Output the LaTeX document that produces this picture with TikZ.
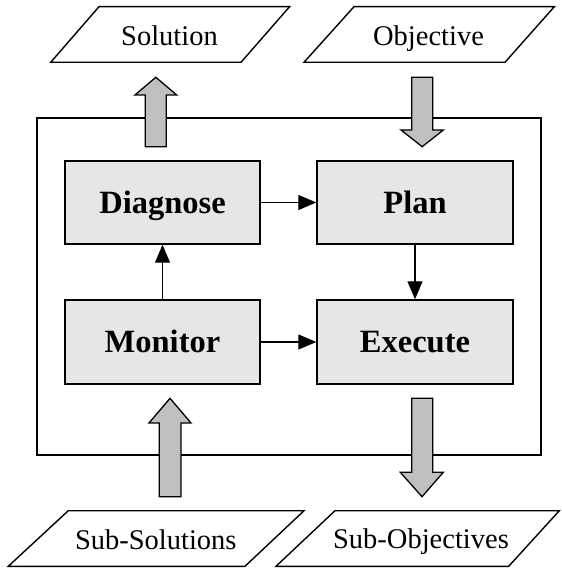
\documentclass[tikz,border=0pt]{standalone}
\usepackage{fontspec}
\setmainfont{Liberation Serif}
\usetikzlibrary{arrows.meta}
\definecolor{boxgray}{HTML}{E6E6E6}
\definecolor{arrowgray}{HTML}{C0C0C0}
\begin{document}
\begin{tikzpicture}[x=1pt,y=-1pt,
  procbox/.style={draw, line width=1.4pt, fill=boxgray, minimum width=195pt, minimum height=83pt, inner sep=0pt,
    font=\fontsize{32.5}{32.5}\selectfont\bfseries, text height=21.5pt, text depth=0pt},
  iolabel/.style={inner sep=0pt, font=\fontsize{28.5}{28.5}\selectfont, text height=18.9pt, text depth=0pt},
  ioshape/.style={draw, line width=1.4pt, fill=white, line join=miter},
  blockarrow/.style={draw, line width=1.3pt, fill=arrowgray, line join=miter},
  flow/.style={line width=1.3pt, -{Triangle[length=18pt,width=15pt]}},
  outerframe/.style={draw, line width=2pt}
]
\useasboundingbox (0,0) rectangle (561,569);

% outer frame
\draw[outerframe] (36.7,118.3) rectangle (541,454.7);

% process boxes
\node[procbox, minimum width=195pt] (diag) at (162.5,202.5) {Diagnose};
\node[procbox, minimum width=196pt] (plan) at (415,202.5) {Plan};
\node[procbox, minimum width=195pt, minimum height=84pt] (mon) at (162.5,342) {Monitor};
\node[procbox, minimum width=196pt, minimum height=84pt] (exec) at (415,342) {Execute};

% connectors
\draw[flow] (diag.east) -- (plan.west);
\draw[flow] (mon.north) -- (diag.south);
\draw[flow] (plan.south) -- (exec.north);
\draw[flow] (mon.east) -- (exec.west);

% input / output parallelograms
\draw[ioshape] (99,6.7) -- (289.6,6.7) -- (241,62.3) -- (50.7,62.3) -- cycle;
\node[iolabel] (sol) at (169.5,35.6) {Solution};
\draw[ioshape] (354,6.7) -- (554.3,6.7) -- (505,62.3) -- (304,62.3) -- cycle;
\node[iolabel] (obj) at (428.5,35.8) {Objective};
\draw[ioshape] (68.3,510.7) -- (304,510.7) -- (245,566.3) -- (8.3,566.3) -- cycle;
\node[iolabel] (subsol) at (155.8,539.8) {Sub-Solutions};
\draw[ioshape] (335,510.7) -- (559.3,510.7) -- (508.7,566.3) -- (276,566.3) -- cycle;
\node[iolabel] (subobj) at (421,539.2) {Sub-Objectives};

% block arrows
\draw[blockarrow] (145.3,146.7) -- (145.3,95) -- (135,95) -- (155.8,77.3) -- (176.7,95) -- (166.3,95) -- (166.3,146.7) -- cycle;
\draw[blockarrow] (411.7,77.3) -- (411.7,130) -- (401,130) -- (422.2,146.7) -- (443.3,130) -- (432.7,130) -- (432.7,77.3) -- cycle;
\draw[blockarrow] (159.3,496.7) -- (159.3,423) -- (149,423) -- (170,398.3) -- (191,423) -- (181,423) -- (181,496.7) -- cycle;
\draw[blockarrow] (411.7,398.3) -- (411.7,472.3) -- (400.3,472.3) -- (422,496.7) -- (443.3,472.3) -- (432.7,472.3) -- (432.7,398.3) -- cycle;
\end{tikzpicture}
\end{document}
